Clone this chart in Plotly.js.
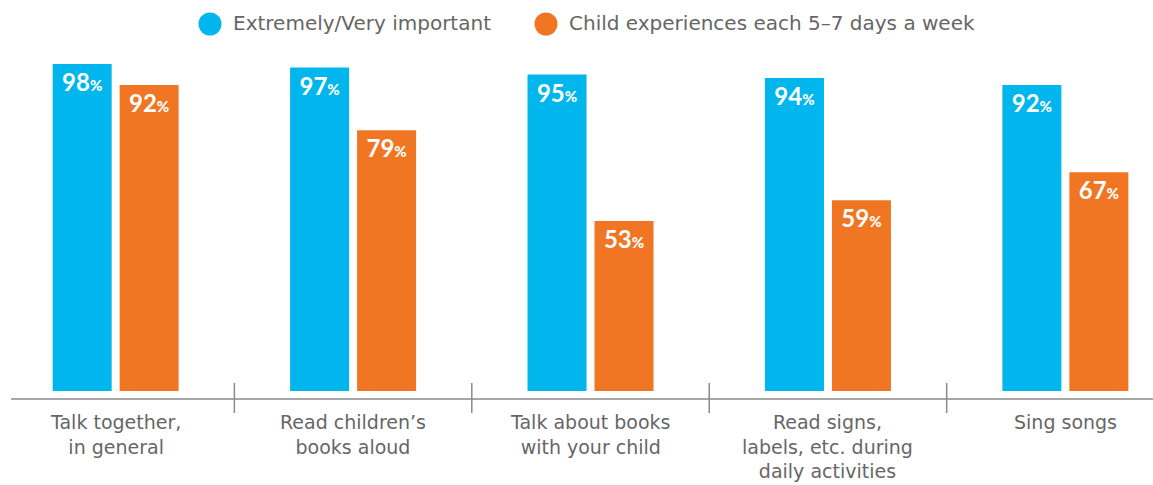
<!DOCTYPE html>
<html>
<head>
<meta charset="utf-8">
<script src="https://cdn.plot.ly/plotly-3.0.1.min.js"></script>
<style>html,body{margin:0;padding:0;background:#fff;}#chart{width:1153px;height:485px;}</style>
</head>
<body>
<div id="chart"></div>
<script>
var categories = ["Talk together,<br>in general", "Read children’s<br>books aloud", "Talk about books<br>with your child", "Read signs,<br>labels, etc. during<br>daily activities", "Sing songs"];
var seriesNames = ["Extremely/Very important", "Child experiences each 5–7 days a week"];
var importantValues = [98, 97, 95, 94, 92];
var experiencesValues = [92, 79, 53, 59, 67];
var colors = ["#00B6ED", "#F07624"];

var W = 1153, H = 485, ML = 10, MR = 0, MT = 55, MB = 94;
var PW = W - ML - MR, PH = H - MT - MB;
function px(x){ return (x - ML) / PW; }
function py(y){ return (H - MB - y) / PH; }

var tpl = "<b>%{y}</b><span style='font-size:15px'>%</span>";
var traces = [importantValues, experiencesValues].map(function(vals, i){
  return {
    type: "bar", x: categories, y: vals, name: seriesNames[i],
    marker: {color: colors[i]},
    texttemplate: tpl, textposition: "inside", insidetextanchor: "end",
    textangle: 0,
    textfont: {family: "Lato, 'Open Sans', sans-serif", size: 24, color: "#ffffff", weight: 900},
    hoverinfo: "none", showlegend: false, cliponaxis: true
  };
});

var labelFont = "'DejaVu Sans', 'Open Sans', sans-serif";
var shapes = [];
var annotations = [];
// axis line
shapes.push({type: "line", xref: "paper", yref: "paper", x0: px(11), x1: 1, y0: py(399), y1: py(399), line: {color: "#8a8a8a", width: 1.5}});
// divider ticks between categories
for (var k = 0; k < categories.length - 1; k++) {
  shapes.push({type: "line", xref: "x", yref: "paper", x0: k + 0.5, x1: k + 0.5, y0: py(383), y1: py(413), line: {color: "#8a8a8a", width: 1.5}});
}
// category labels
categories.forEach(function(c){
  annotations.push({xref: "x", yref: "paper", x: c, y: py(409), yanchor: "top", xanchor: "center", showarrow: false, text: c, align: "center",
    font: {family: labelFont, size: 19, color: "#666666"}});
});
// legend
var legendItems = [{cx: 210, tx: 231}, {cx: 546, tx: 567}];
legendItems.forEach(function(it, i){
  shapes.push({type: "circle", xref: "paper", yref: "paper", xsizemode: "pixel", ysizemode: "pixel",
    xanchor: px(it.cx), yanchor: py(24), x0: -11.5, x1: 11.5, y0: -11.5, y1: 11.5,
    fillcolor: colors[i], line: {width: 0}});
  annotations.push({xref: "paper", yref: "paper", x: px(it.tx), y: py(23), xanchor: "left", yanchor: "middle", showarrow: false,
    text: seriesNames[i], font: {family: labelFont, size: 20, color: "#666666"}});
});

var layout = {
  width: W, height: H,
  margin: {l: ML, r: MR, t: MT, b: MB, pad: 0},
  paper_bgcolor: "#ffffff", plot_bgcolor: "#ffffff",
  barmode: "group", bargap: 0.4358, bargroupgap: 0.119,
  xaxis: {type: "category", range: [-0.445, 4.369], showticklabels: false, showgrid: false, zeroline: false, showline: false, ticks: "", fixedrange: true},
  yaxis: {range: [4.3, 100.6], visible: false, showgrid: false, zeroline: false, fixedrange: true},
  showlegend: false,
  shapes: shapes, annotations: annotations,
  uniformtext: {mode: false}
};

Plotly.newPlot("chart", traces, layout, {displayModeBar: false, staticPlot: true});
</script>
</body>
</html>
